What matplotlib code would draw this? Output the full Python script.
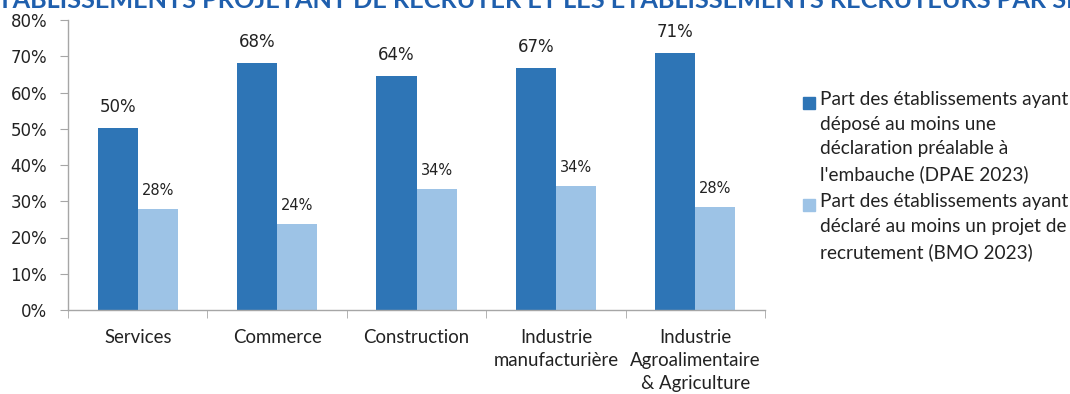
import matplotlib.pyplot as plt
from matplotlib.patches import Rectangle
import numpy as np

plt.rcParams['font.family'] = ['Lato', 'DejaVu Sans']

categories = ["Services", "Commerce", "Construction",
              "Industrie\nmanufacturière",
              "Industrie\nAgroalimentaire\n& Agriculture"]
dpae = [50.2, 68.2, 64.5, 66.7, 71.0]
bmo = [27.8, 23.7, 33.5, 34.3, 28.4]
dpae_labels = ["50%", "68%", "64%", "67%", "71%"]
bmo_labels = ["28%", "24%", "34%", "34%", "28%"]
legend_labels = ["Part des établissements ayant\ndéposé au moins une\ndéclaration préalable à\nl'embauche (DPAE 2023)",
                 "Part des établissements ayant\ndéclaré au moins un projet de\nrecrutement (BMO 2023)"]
title = "ÉTABLISSEMENTS PROJETANT DE RECRUTER ET LES ÉTABLISSEMENTS RECRUTEURS PAR SECTEUR"

dark = "#2E75B6"
light = "#9DC3E6"
grey = "#A6A6A6"
txt = "#222222"

W, H = 1070, 394
fig = plt.figure(figsize=(W/100, H/100), dpi=100)
ax = fig.add_axes([68/W, 1 - 310/H, (765-68)/W, 290/H])

x = np.arange(len(categories))
w = 0.287
ax.bar(x - w/2, dpae, w, color=dark)
ax.bar(x + w/2, bmo, w, color=light)

# data labels
for xi, v, lab in zip(x, dpae, dpae_labels):
    ax.text(xi - w/2, v + 3.3, lab, ha="center", va="bottom", fontsize=12,
            color=txt, family="DejaVu Sans")
for xi, v, lab in zip(x, bmo, bmo_labels):
    ax.text(xi + w/2, v + 3.0, lab, ha="center", va="bottom", fontsize=10.5,
            color=txt, family="DejaVu Sans")

ax.set_xlim(-0.5, len(categories) - 0.5)
ax.set_ylim(0, 80)
ax.set_yticks(np.arange(0, 81, 10))
ax.set_yticklabels([f"{t}%" for t in range(0, 81, 10)], fontsize=12, color=txt,
                   family="DejaVu Sans")
ax.set_xticks(x)
ax.set_xticklabels(categories, fontsize=13.4, color=txt, linespacing=1.4)
ax.set_xticks(np.arange(-0.5, len(categories), 1), minor=True)
ax.tick_params(axis="x", which="major", length=0, pad=14)
ax.tick_params(axis="x", which="minor", length=6, color=grey)
ax.tick_params(axis="y", length=6, color=grey, pad=9)

for s in ["top", "right"]:
    ax.spines[s].set_visible(False)
for s in ["left", "bottom"]:
    ax.spines[s].set_color(grey)
    ax.spines[s].set_linewidth(1)

# legend, square aligned with first line of text
for lab, col, y in zip(legend_labels, [dark, light], [103, 205]):
    fig.patches.append(Rectangle((803/W, 1 - (y + 6)/H), 12/W, 12/H,
                                 transform=fig.transFigure, color=col))
    fig.text(820/W, 1 - (y - 12)/H, lab, ha="left", va="top", fontsize=13.7,
             color=txt, linespacing=1.55)

fig.text(-0.016, 1.0, title, ha="left", va="center", fontsize=18.2,
         fontweight="bold", color="#1F5FAD")

fig.savefig("out.png", dpi=100)
